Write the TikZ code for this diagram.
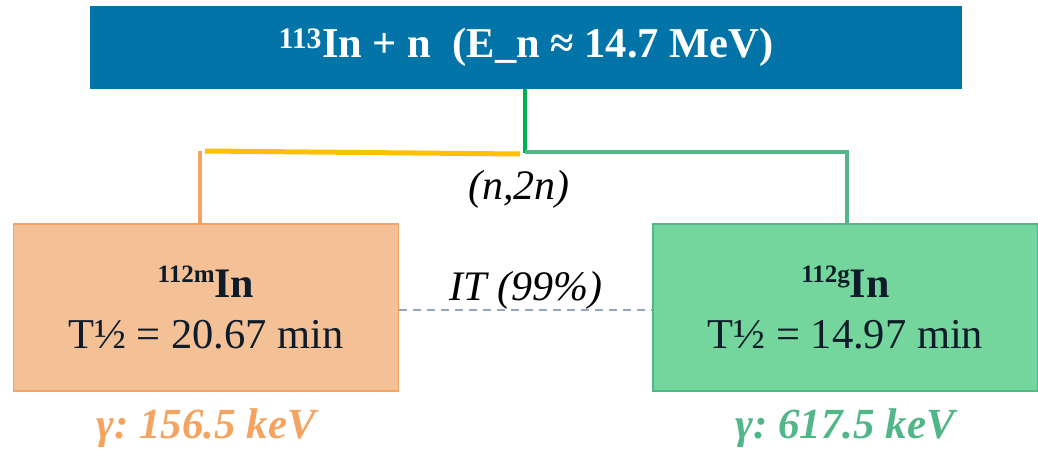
\documentclass[tikz,border=0pt]{standalone}
\usepackage{fontspec}
\newfontfamily\tms{Liberation Serif}
\definecolor{topblue}{RGB}{2,116,168}
\definecolor{orfill}{RGB}{244,192,150}
\definecolor{orline}{RGB}{244,164,96}
\definecolor{grfill}{RGB}{116,214,156}
\definecolor{grline}{RGB}{82,183,136}
\definecolor{brgreen}{RGB}{0,176,80}
\definecolor{yel}{RGB}{255,192,0}
\definecolor{navy}{RGB}{13,27,42}
\definecolor{dashc}{RGB}{142,169,193}
\newcommand{\isoname}[2]{{\fontsize{42}{50}\selectfont\bfseries{\fontsize{25}{30}\selectfont\raisebox{15pt}{#1}}#2}}
\tikzset{
  topbox/.style={fill=topblue, draw=none, minimum width=872pt, minimum height=83pt, inner sep=0pt, text=white, font=\fontsize{42.5}{50}\selectfont\tms\bfseries\frenchspacing},
  isobox/.style={minimum width=385pt, minimum height=167pt, inner sep=0pt, text=navy, align=center, line width=1.2pt, font=\fontsize{42.5}{51}\selectfont\tms\frenchspacing},
  lbl/.style={inner sep=0pt, font=\fontsize{42}{48}\selectfont\tms\itshape\frenchspacing},
  gamlbl/.style={inner sep=0pt, font=\fontsize{43}{48}\selectfont\tms\bfseries\itshape\frenchspacing}
}
\begin{document}
\begin{tikzpicture}[x=1pt,y=-1pt]
\useasboundingbox (0,0) rectangle (1038,450);
\node[topbox] (top) at (526,47.5) {\textsuperscript{113}In + n\ \ (E\_n ≈ 14.7 MeV)};
\node[isobox, fill=orfill, draw=orline] (left) at (206,307.5) {\isoname{112m}{In}\\T½ = 20.67 min};
\node[isobox, fill=grfill, draw=grline] (right) at (845.5,307.5) {\isoname{112g}{In}\\T½ = 14.97 min};
\coordinate (jn) at (525,153);
\coordinate (ly) at (205,151);
\coordinate (rg) at (847,152);
\draw[brgreen, line width=4pt] (top.south -| jn) -- (jn);
\draw[orline, line width=3.5pt] (left.north -| 200,0) -- (200,151);
\draw[yel, line width=5pt] (520,154) -- (ly);
\draw[grline, line width=3.5pt] (jn |- rg) -- (rg) -- (right.north -| rg);
\node[lbl] (nn) at (519,189) {(n,2n)};
\draw[dashc, line width=2pt, dash pattern=on 8pt off 6pt] (left.east |- 0,310) -- (right.west |- 0,310);
\node[lbl, anchor=base] (it) at (526,300) {IT (99\%)};
\node[gamlbl, text=orline] (g1) at (206,428) {γ: 156.5 keV};
\node[gamlbl, text=grline] (g2) at (845,428) {γ: 617.5 keV};
\end{tikzpicture}
\end{document}
